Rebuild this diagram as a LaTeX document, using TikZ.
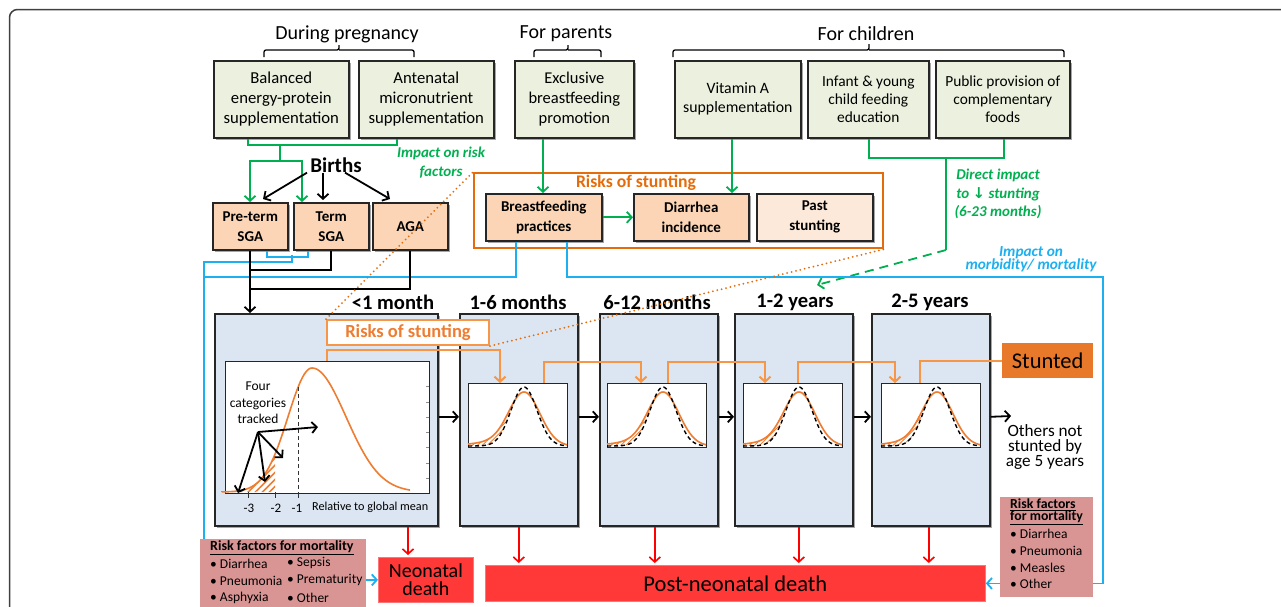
\documentclass[tikz,border=0pt]{standalone}
\usepackage{fontspec}
\setmainfont{Carlito}
\newfontfamily\djv{DejaVu Sans}
\usetikzlibrary{shadows,patterns.meta,arrows.meta}
\definecolor{gfill}{HTML}{EBF1DE}
\definecolor{ofill}{HTML}{FBD5B5}
\definecolor{pfill}{HTML}{FDE9D9}
\definecolor{afill}{HTML}{DCE6F2}
\definecolor{grn}{HTML}{00B050}
\definecolor{blu}{HTML}{1CB0F0}
\definecolor{org}{HTML}{E46C0A}
\definecolor{lorg}{HTML}{F79646}
\definecolor{corg}{HTML}{EE7D31}
\definecolor{stf}{HTML}{E8782A}
\definecolor{rdf}{HTML}{FF3838}
\definecolor{rda}{HTML}{FF0000}
\definecolor{rkf}{HTML}{D99594}
\newcommand\fsz[2]{\fontsize{#1pt}{#2pt}\selectfont\lineskiplimit=-50pt\relax}
\tikzset{
 bx/.style={draw=black!85, line width=1.6pt, anchor=north west, align=center, inner sep=0pt,
   drop shadow={shadow xshift=2pt, shadow yshift=-2pt, opacity=0.35, fill=black}},
 gbox/.style={bx, fill=gfill, minimum height=77pt},
 obox/.style={bx, fill=ofill, minimum height=47pt, font=\bfseries\fsz{15}{20}},
 abox/.style={bx, fill=afill, minimum width=118pt, minimum height=212pt},
 hd/.style={font=\fsz{20}{24}, inner sep=0pt},
 brace/.style={line width=1.3pt, rounded corners=2pt},
 glink/.style={grn, line width=1.8pt},
 blink/.style={blu, line width=1.8pt},
 klink/.style={black, line width=1.8pt},
 olink/.style={lorg, line width=2pt},
 rlink/.style={rda, line width=1.6pt, shorten >=2pt},
 glbl/.style={font=\bfseries\itshape\fsz{15}{19}, align=center, inner sep=0pt},
 agelbl/.style={font=\bfseries\fsz{20.6}{24}, inner sep=0pt},
 pbox/.style={draw=black!85, line width=1pt, fill=white, anchor=north west, minimum width=99pt, minimum height=64pt, inner sep=0pt},
 dots/.style={org, line width=2pt, dash pattern=on 0pt off 4.5pt, line cap=round},
 rfbox/.style={fill=rkf, anchor=north west, inner sep=0pt},
 rtxt/.style={anchor=west, font=\fsz{13.5}{16}, inner sep=0pt},
 death/.style={fill=rdf, draw=rdf!70!white, line width=0.8pt, anchor=north west, inner sep=0pt, align=center},
}
\begin{document}
\begin{tikzpicture}[x=1pt,y=-1pt, >={Straight Barb[length=5pt,width=11pt]}]
\useasboundingbox (0,0) rectangle (1281,606);
\fill[white] (0,0) rectangle (1281,606);
% outer frame
\draw[line width=1.5pt, black!75, rounded corners=8pt] (9.5,650) -- (9.5,9.5) -- (1320,9.5);

% headings and braces
\node[hd] (hP) at (347,34) {During pregnancy};
\node[hd] (hPa) at (566,34) {For parents};
\node[hd] (hC) at (866,34) {For children};
\draw[brace] (264,57) |- (339,50) -- (339,45) (339,50) -| (414,57);
\draw[brace] (534,57) |- (568,50) -- (568,45) (568,50) -| (601,57);
\draw[brace] (673,57) |- (869,50) -- (869,44) (869,50) -| (1064,57);

% top intervention boxes
\node[gbox, minimum width=135pt, font=\fsz{16.7}{20}] (b1) at (213,60) {Balanced\\energy-protein\\supplementation};
\node[gbox, minimum width=135pt, font=\fsz{16.7}{20}] (b2) at (358,60) {Antenatal\\micronutrient\\supplementation};
\node[gbox, minimum width=119pt, font=\fsz{16.5}{20}] (b3) at (514,60) {Exclusive\\breastfeeding\\promotion};
\node[gbox, minimum width=126pt, font=\fsz{15.8}{19}] (b4) at (674,60) {Vitamin A\\supplementation};
\node[gbox, minimum width=121pt, font=\fsz{15.4}{18}] (b5) at (807,60) {Infant \& young\\child feeding\\education};
\node[gbox, minimum width=134pt, font=\fsz{15.4}{18}] (b6) at (935,60) {Public provision of\\complementary\\foods};

% risks of stunting frame
\node[draw=org, line width=2.2pt, anchor=north west, minimum width=409pt, minimum height=75pt, inner sep=0pt] (rframe) at (473,172) {};
\node[text=org, font=\bfseries\fsz{17.7}{20}, inner sep=0pt] (rlbl) at (636,183) {Risks of stunting};
\node[obox, minimum width=116pt] (bf) at (485,193) {Breastfeeding\\practices};
\node[obox, minimum width=115pt] (dia) at (633,193) {Diarrhea\\incidence};
\node[obox, fill=pfill, minimum width=116pt] (past) at (756,193) {Past\\stunting};

% births
\node[font=\bfseries\fsz{21}{24}, inner sep=0pt] (births) at (336,165) {Births};
\node[obox, minimum width=75pt] (pre) at (212,202) {Pre-term\\SGA};
\node[obox, minimum width=75pt] (term) at (293,202) {Term\\SGA};
\node[obox, minimum width=75pt] (aga) at (372,202) {AGA};

% labels
\node[glbl, text=grn] (lrisk) at (441,163) {Impact on risk\\factors};
\node[glbl, text=grn, font=\bfseries\itshape\fsz{15}{18.5}] (ldir) at (998,194) {Direct impact\\to {\djv\bfseries\itshape ↓} stunting\\(6-23 months)};
\node[glbl, text=blu, font=\bfseries\itshape\fsz{15.3}{13.5}] (lmor) at (1031,259) {Impact on\\morbidity/ mortality};

% age boxes
\node[abox, minimum width=223pt] (aA) at (214,313) {};
\node[abox] (aB) at (459,313) {};
\node[abox] (aC) at (599,313) {};
\node[abox] (aD) at (734,313) {};
\node[abox] (aE) at (871,313) {};
\node[agelbl] (lA) at (393,302) {<1 month};
\node[agelbl] (lB) at (518,302) {1-6 months};
\node[agelbl] (lC) at (657,302) {6-12 months};
\node[agelbl] (lD) at (795,302) {1-2 years};
\node[agelbl] (lE) at (930,302) {2-5 years};

% big plot
\node[pbox, minimum width=204pt, minimum height=132pt] (pA) at (225,361) {};
\fill[pattern={Lines[angle=45,distance=5pt,line width=1.6pt]}, pattern color=corg]
  (227,492) -- plot[domain=227:275, samples=40] (\x,{492-124*exp(-((\x-312)^2)/1152)}) -- (275,492) -- cycle;
\draw[corg, line width=1.6pt] (222,492) -- plot[domain=222:312, samples=70] (\x,{492-124*exp(-((\x-312)^2)/1152)});
\draw[corg, line width=1.6pt] plot[domain=312:410, samples=70] (\x,{492-124*exp(-((\x-312)^2)/2312)});
\draw[black!80, line width=1pt, dash pattern=on 4pt off 3pt] (298,387) -- (298,492);
\foreach \yy in {386,402,417,432,447,463,478} \draw[black!45, line width=0.6pt] (426,\yy) -- (429,\yy);
\foreach \xx in {248,275,298} \draw[black!80, line width=0.8pt] (\xx,492) -- (\xx,498);
\node[font=\fsz{13}{15}, inner sep=0pt] (t3) at (249,508) {-3};
\node[font=\fsz{13}{15}, inner sep=0pt] (t2) at (276,508) {-2};
\node[font=\fsz{13}{15}, inner sep=0pt] (t1) at (297,508) {-1};
\node[font=\fsz{12.2}{15}, anchor=west, inner sep=0pt] (rel) at (312,507) {Relative to global mean};
\node[font=\fsz{13.5}{16.5}, align=center, inner sep=0pt] (four) at (258,403) {Four\\categories\\tracked};
\coordinate (fc) at (258,432);
\draw[klink,->] (fc) -- (318,427);
\draw[klink,->] (fc) -- (283,458);
\draw[klink,->] (fc) -- (265,482);
\draw[klink,->] (fc) -- (238,493);

% small plots
\foreach \nm/\xo in {pB/468,pC/607,pD/743,pE/881}{
  \node[pbox] (\nm) at (\xo,383) {};
  \fill[pattern={Lines[angle=45,distance=3.5pt,line width=0.9pt]}, pattern color=corg]
    plot[variable=\t, domain=-56:-11, samples=30] ({\xo+56+\t},{446-47*exp(-((\t)^2)/450)-7*exp(-((\t)^2)/2450)})
    -- plot[variable=\t, domain=-11:-56, samples=30] ({\xo+56+\t},{446-59*exp(-((\t)^2)/338)}) -- cycle;
  \draw[corg, line width=1.6pt] plot[variable=\t, domain=-56:0, samples=40] ({\xo+56+\t},{446-47*exp(-((\t)^2)/450)-7*exp(-((\t)^2)/2450)});
  \draw[corg, line width=1.6pt] plot[variable=\t, domain=0:43, samples=30] ({\xo+56+\t},{446-54*exp(-((\t)^2)/500)});
  \draw[black, line width=1.4pt, dash pattern=on 4pt off 3pt] plot[variable=\t, domain=-56:43, samples=60] ({\xo+56+\t},{446-59*exp(-((\t)^2)/338)});
}

% small risks box
\node[draw=lorg, line width=2pt, fill=white, anchor=north west, minimum width=162pt, minimum height=25pt, inner sep=0pt, text=corg, font=\bfseries\fsz{18.5}{22}] (rs) at (326,319) {Risks of stunting};

% stunted and others
\node[fill=stf, anchor=north west, minimum width=91pt, minimum height=35pt, inner sep=0pt, font=\fsz{22.5}{26}] (st) at (1002,343) {Stunted};
\node[align=center, font=\fsz{17.2}{14.8}, inner sep=0pt] (oth) at (1045,447) {Others not\\stunted by\\age 5 years};

% death boxes
\node[death, minimum width=95pt, minimum height=45pt, font=\fsz{20}{18}] (nd) at (378,557) {Neonatal\\death};
\node[death, minimum width=500pt, minimum height=36pt, font=\fsz{22.5}{26}] (pnd) at (485,565) {Post-neonatal death};

% risk factor boxes
\node[rfbox, minimum width=166pt, minimum height=80pt] (rfL) at (200,539) {};
\node[rtxt, font=\bfseries\fsz{14}{16}] (rfLt) at (210,548) {\underline{Risk factors for mortality}};
\node[rtxt] (l1) at (210,564) {• Diarrhea};
\node[rtxt] (l2) at (210,581) {• Pneumonia};
\node[rtxt] (l3) at (210,598) {• Asphyxia};
\node[rtxt] (l4) at (287,563) {• Sepsis};
\node[rtxt] (l5) at (287,580) {• Prematurity};
\node[rtxt] (l6) at (287,598) {• Other};
\node[rfbox, minimum width=93pt, minimum height=100pt] (rfR) at (1000,497) {};
\node[rtxt, anchor=north west, align=left, font=\bfseries\fsz{13.8}{12}] (rfRt) at (1010,499) {\underline{Risk factors}\\\underline{for mortality}};
\node[rtxt] (r1) at (1010,534) {• Diarrhea};
\node[rtxt] (r2) at (1010,551) {• Pneumonia};
\node[rtxt] (r3) at (1010,568) {• Measles};
\node[rtxt] (r4) at (1010,584) {• Other};

% ---- green connectors
\draw[glink] ([xshift=35pt]b1.south west) |- (280,145) coordinate (gj) -| ([xshift=39pt]b2.south west);
\draw[glink] (gj) -- (280,161) coordinate (gj2);
\draw[glink,->] (gj2) -| ([xshift=38pt]pre.north west);
\draw[glink,->] (gj2) -| ([xshift=9pt]term.north west);
\draw[glink,->] ([xshift=29pt]b3.south west) -- ([xshift=58pt]bf.north west);
\draw[glink,->] ([xshift=58pt]b4.south west) -- ([xshift=99pt]dia.north west);
\draw[glink,->] (bf.east) -- (dia.west);
\draw[glink] ([xshift=62pt]b5.south west) |- (946,158) coordinate (gj3) -| ([xshift=69pt]b6.south west);
\draw[glink] (gj3) -- (946,250) coordinate (gj4);
\coordinate (gtip) at (817,285);
\draw[glink, dash pattern=on 9pt off 6pt, ->] (gj4) -- (gtip);

% ---- black connectors
\draw[klink,->] ([xshift=-29pt]births.south) -- ([xshift=51pt,yshift=3pt]pre.north west);
\draw[klink,->] ([xshift=-13pt]births.south) -- ([xshift=30pt,yshift=2pt]term.north west);
\draw[klink,->] ([xshift=9pt]births.south) -- ([xshift=18pt,yshift=3pt]aga.north west);

% ---- blue connectors
\draw[blink] ([xshift=55pt]pre.south west) |- ([xshift=15pt,yshift=-6pt]term.south west) -- ([xshift=15pt]term.south west);
\coordinate (bj) at (292,255);
\draw[blink] (bj) |- (204,262) coordinate (bL) -- (bL |- rfL.north);
\draw[blink] ([xshift=31pt]bf.south west) |- (204,277);
\draw[blink] ([xshift=82pt]bf.south west) |- (1103,277) |- ([yshift=14pt]rfR.south east);
\draw[blink,->] (rfR.west |- pnd.east) -- (pnd.east);
\draw[blink,->] (rfL.east |- nd.west) -- (nd.west);

\coordinate (pB1) at ([xshift=38pt]pre.south west);
\draw[klink,->] (pB1) -- (pB1 |- aA.north);
\draw[klink] ([xshift=38pt]term.south west) |- ([yshift=-19pt]pB1);
\draw[klink] ([xshift=38pt]aga.south west) |- ([yshift=-38pt]pB1);
\draw[klink,->] ([yshift=3pt]aA.east) -- ([yshift=3pt]aB.west);
\draw[klink,->] ([yshift=3pt]aB.east) -- ([yshift=3pt]aC.west);
\draw[klink,->] ([yshift=3pt]aC.east) -- ([yshift=3pt]aD.west);
\draw[klink,->] ([yshift=3pt]aD.east) -- ([yshift=3pt]aE.west);
\coordinate (oe) at (1011,416);
\draw[klink,->] ([yshift=3pt]aE.east) -- (oe);

% ---- orange connectors
\draw[olink,->] ([xshift=102pt]pA.north west) |- ([xshift=32pt,yshift=33pt]pB.north west) -- ([xshift=32pt]pB.north west);
\draw[olink,->] ([xshift=76pt]pB.north west) |- ([xshift=34pt,yshift=21pt]pC.north west) -- ([xshift=34pt]pC.north west);
\draw[olink,->] ([xshift=61pt]pC.north west) |- ([xshift=22pt,yshift=21pt]pD.north west) -- ([xshift=22pt]pD.north west);
\draw[olink,->] ([xshift=55pt]pD.north west) |- ([xshift=14pt,yshift=21pt]pE.north west) -- ([xshift=14pt]pE.north west);
\draw[olink] ([xshift=39pt]pE.north west) |- (st.west);
\draw[dots] (rs.north west) -- (rframe.north west);
\draw[dots] (rs.south east) -- (rframe.south east);

% ---- red connectors
\coordinate (rA) at ([xshift=194pt]aA.south west);
\draw[rlink,->] (rA) -- (rA |- nd.north);
\draw[rlink,->] (aB.south) -- (aB.south |- pnd.north);
\draw[rlink,->] ([xshift=-4pt]aC.south) -- ([xshift=-4pt]aC.south |- pnd.north);
\draw[rlink,->] ([xshift=5pt]aD.south) -- ([xshift=5pt]aD.south |- pnd.north);
\draw[rlink,->] ([xshift=-2pt]aE.south) -- ([xshift=-2pt]aE.south |- pnd.north);
\end{tikzpicture}
\end{document}
